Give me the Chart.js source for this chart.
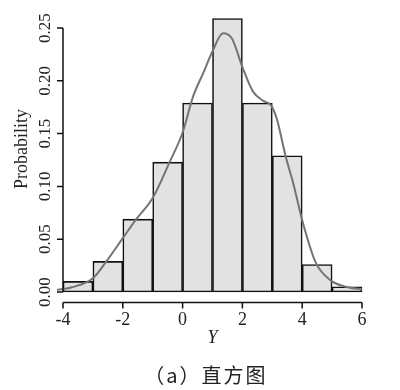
<!DOCTYPE html>
<html>
<head>
<meta charset="utf-8">
<script src="https://cdn.jsdelivr.net/npm/chart.js@4.4.1/dist/chart.umd.min.js"></script>
<style>
  html, body { margin: 0; padding: 0; background: #fff; }
  #wrap { position: relative; width: 400px; height: 390px; }
  #caption {
    position: absolute; left: 0; top: 360px; width: 412px;
    text-align: center; font: 20px "Noto Sans CJK SC"; color: #222;
    letter-spacing: 2px;
  }
</style>
</head>
<body>
<div id="wrap">
  <canvas id="grafico"></canvas>
  <div id="caption">（a）直方图</div>
</div>
<script>
// histograma: inicio de cada clase (ancho 1) y su probabilidad
const binStart = [-4, -3, -2, -1, 0, 1, 2, 3, 4, 5];
const binProb = [0.010, 0.029, 0.069, 0.123, 0.179, 0.259, 0.179, 0.129, 0.026, 0.005];

// curva de densidad
const curveX = [-4.6, -4.2, -3.7, -3.0, -2.55, -2.0, -1.55, -1.0, -0.45, 0.0, 0.35, 0.7, 1.0, 1.35, 1.65, 2.0, 2.35, 2.7, 2.95, 3.15, 3.45, 3.7, 4.0, 4.45, 4.95, 5.45, 6.0, 6.9];
const curveY = [0.001, 0.002, 0.0045, 0.013, 0.029, 0.051, 0.069, 0.089, 0.122, 0.151, 0.185, 0.208, 0.228, 0.245, 0.240, 0.213, 0.190, 0.181, 0.177, 0.164, 0.128, 0.103, 0.068, 0.028, 0.011, 0.005, 0.0026, 0.0003];

// ticks
const xTicks = [-4, -2, 0, 2, 4, 6];
const xTickLabels = ["-4", "-2", "0", "2", "4", "6"];
const yTicks = [0, 0.05, 0.10, 0.15, 0.20, 0.25];
const yTickLabels = ["0.00", "0.05", "0.10", "0.15", "0.20", "0.25"];

const TXT = "#222";
const SERIF = '"Liberation Serif", "DejaVu Serif", serif';

// ejes estilo R: separados del area de datos, con marcas hacia afuera
const ejesR = {
  id: "ejesR",
  afterDraw(chart) {
    const { ctx, scales: { x, y } } = chart;
    const yLine = y.getPixelForValue(-0.01);
    const xLine = x.getPixelForValue(xTicks[0]);
    ctx.save();
    ctx.strokeStyle = "#111";
    ctx.lineWidth = 1.5;
    ctx.beginPath();
    ctx.moveTo(x.getPixelForValue(xTicks[0]), yLine);
    ctx.lineTo(x.getPixelForValue(xTicks[xTicks.length - 1]), yLine);
    xTicks.forEach((v) => {
      const px = x.getPixelForValue(v);
      ctx.moveTo(px, yLine);
      ctx.lineTo(px, yLine + 6);
    });
    ctx.moveTo(xLine, y.getPixelForValue(yTicks[0]));
    ctx.lineTo(xLine, y.getPixelForValue(yTicks[yTicks.length - 1]));
    yTicks.forEach((v) => {
      const py = y.getPixelForValue(v);
      ctx.moveTo(xLine, py);
      ctx.lineTo(xLine - 6, py);
    });
    ctx.stroke();

    // etiquetas del eje y, giradas
    ctx.fillStyle = TXT;
    ctx.textAlign = "center";
    ctx.textBaseline = "middle";
    ctx.font = "17px " + SERIF;
    yTicks.forEach((v, i) => {
      ctx.save();
      ctx.translate(45.5, y.getPixelForValue(v));
      ctx.rotate(-Math.PI / 2);
      ctx.fillText(yTickLabels[i], 0, 0);
      ctx.restore();
    });
    ctx.font = "18px " + SERIF;
    ctx.translate(22, 149);
    ctx.rotate(-Math.PI / 2);
    ctx.fillText("Probability", 0, 0);
    ctx.restore();
  },
};

new Chart(document.getElementById("grafico"), {
  type: "bar",
  data: {
    datasets: [
      {
        type: "line",
        data: curveX.map((v, i) => ({ x: v, y: curveY[i] })),
        borderColor: "#747474",
        borderWidth: 2,
        pointRadius: 0,
        cubicInterpolationMode: "monotone",
        fill: false,
        clip: false,
        order: 0,
      },
      {
        type: "bar",
        data: binStart.map((v, i) => ({ x: v + 0.5, y: binProb[i] })),
        backgroundColor: "#e2e2e2",
        borderColor: "#111",
        borderWidth: 1.6,
        borderSkipped: false,
        barPercentage: 1,
        categoryPercentage: 1,
        clip: false,
        order: 1,
      },
    ],
  },
  options: {
    responsive: true,
    maintainAspectRatio: false,
    animation: false,
    layout: { padding: { top: 28, right: 38, bottom: 0, left: 0 } },
    plugins: { legend: { display: false }, tooltip: { enabled: false } },
    scales: {
      x: {
        type: "linear",
        offset: false,
        min: -4,
        max: 6,
        afterBuildTicks: (s) => { s.ticks = xTicks.map((v) => ({ value: v })); },
        afterFit: (s) => { s.height = 98; },
        grid: { display: false, drawTicks: false },
        border: { display: false },
        ticks: {
          padding: 17,
          color: TXT,
          font: { family: SERIF, size: 18 },
          maxRotation: 0,
          callback: (v) => xTickLabels[xTicks.indexOf(v)],
        },
        title: {
          display: true,
          text: "Y",
          color: TXT,
          font: { family: SERIF, size: 18, style: "italic" },
          padding: { top: 0, bottom: 41 },
        },
      },
      y: {
        min: 0,
        max: 0.25,
        afterBuildTicks: (s) => { s.ticks = yTicks.map((v) => ({ value: v })); },
        afterFit: (s) => { s.width = 63; },
        grid: { display: false, drawTicks: false },
        border: { display: false },
        ticks: { display: false },
      },
    },
  },
  plugins: [ejesR],
});
</script>
</body>
</html>
